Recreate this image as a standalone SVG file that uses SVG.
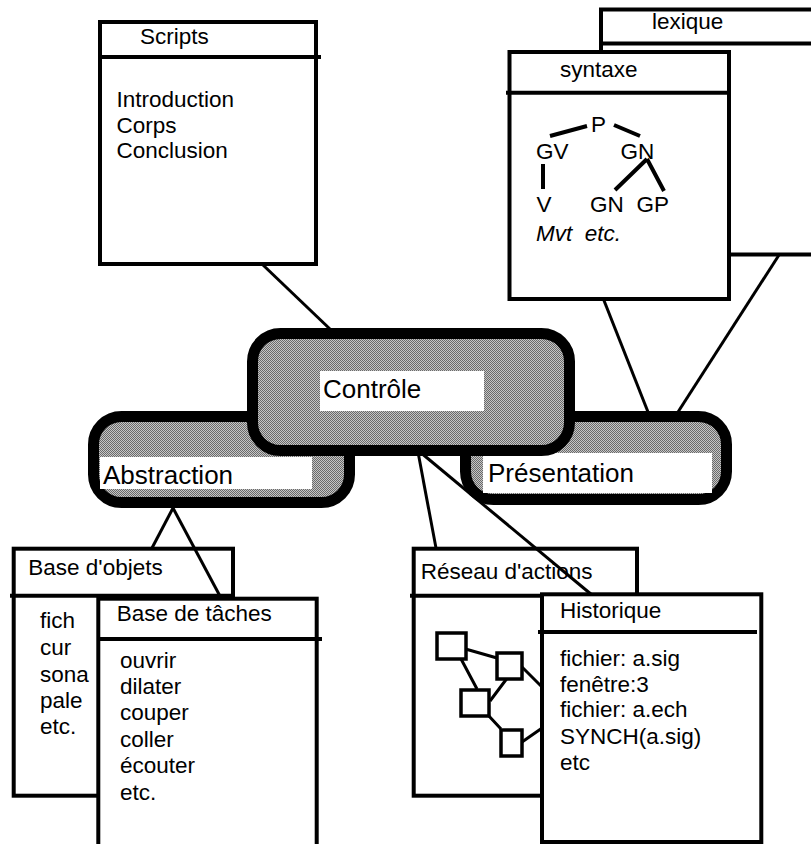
<svg xmlns="http://www.w3.org/2000/svg" width="811" height="844" viewBox="0 0 811 844">
  <defs>
    <!-- fine dithered grey used inside the PAC agents -->
    <pattern id="dither" width="2" height="2" patternUnits="userSpaceOnUse">
      <rect width="2" height="2" fill="#c6c6c6"/>
      <rect width="1" height="1" fill="#6a6a6a"/>
      <rect x="1" y="1" width="1" height="1" fill="#6a6a6a"/>
    </pattern>
    <style>
      .box{fill:#fff;stroke:#000;stroke-width:4}
      .rule{stroke:#000;stroke-width:4;fill:none}
      .link{stroke:#000;stroke-width:3;fill:none}
      .pac{fill:url(#dither);stroke:#000;stroke-width:11}
      .lab{fill:#fff}
      .tree{stroke:#000;stroke-width:4;fill:none}
      .net{fill:#fff;stroke:#000;stroke-width:3.5}
      text{font-family:"Liberation Sans",Arial,Helvetica,sans-serif;font-size:22.5px;fill:#000}
      .big{font-size:26px}
      .it{font-style:italic}
    </style>
  </defs>

  <!-- lexicon knowledge (behind the syntax box) -->
  <g id="lexique">
    <rect class="box" x="601" y="9.5" width="260" height="245"/>
    <line class="rule" x1="599" y1="43.5" x2="811" y2="43.5"/>
    <text x="652" y="29">lexique</text>
  </g>

  <!-- syntax knowledge with a small parse tree -->
  <g id="syntaxe">
    <rect class="box" x="509.5" y="52" width="219.5" height="247"/>
    <line class="rule" x1="506" y1="92.7" x2="729" y2="92.7"/>
    <text x="560" y="77">syntaxe</text>
    <text x="591" y="131.5">P</text>
    <text x="536" y="159.3">GV</text>
    <text x="620.5" y="159.3">GN</text>
    <text x="536.5" y="212.3">V</text>
    <text x="590" y="212.3">GN</text>
    <text x="636.5" y="212.3">GP</text>
    <text class="it" x="536" y="240.7" xml:space="preserve">Mvt  etc.</text>
    <path class="tree" d="M550,136 L587,126 M614,125 L640,136 M543,164 L543,189 M647,159 L615,190 M647,159 L664,191"/>
  </g>

  <!-- scripts knowledge -->
  <g id="scripts">
    <rect class="box" x="100" y="22" width="216" height="242"/>
    <line class="rule" x1="100" y1="57" x2="321" y2="57"/>
    <text x="140" y="44">Scripts</text>
    <text x="116.5" y="106.7">Introduction</text>
    <text x="116.5" y="132.5">Corps</text>
    <text x="116.5" y="158.3">Conclusion</text>
  </g>

  <!-- object base -->
  <g id="base-objets">
    <rect class="box" x="13.7" y="548.7" width="219.3" height="247"/>
    <line class="rule" x1="10" y1="595.7" x2="233" y2="595.7"/>
    <text x="28.3" y="575">Base d'objets</text>
    <text x="40" y="628.3">fich</text>
    <text x="40" y="655">cur</text>
    <text x="40" y="681.7">sona</text>
    <text x="40" y="708">pale</text>
    <text x="40" y="734.3">etc.</text>
  </g>

  <!-- action network -->
  <g id="reseau-actions">
    <rect class="box" x="413.7" y="548.7" width="223.3" height="247"/>
    <line class="rule" x1="410" y1="595.7" x2="637" y2="595.7"/>
    <text x="420.7" y="579">Réseau d'actions</text>
    <path class="link" d="M462,648 L497,658 M460,657 L477,689 M490,701 L508,677 M488,715 L501,729 M522,667 L545,690 M522,742 L545,726"/>
    <rect class="net" x="437" y="633" width="29" height="26"/>
    <rect class="net" x="497" y="653" width="25" height="26"/>
    <rect class="net" x="461" y="690" width="28" height="26"/>
    <rect class="net" x="501" y="730" width="21" height="26"/>
  </g>

  <!-- links between the agents and their knowledge -->
  <g id="connectors">
    <line class="link" x1="263" y1="265" x2="331" y2="330"/>
    <line class="link" x1="603" y1="298" x2="648" y2="412"/>
    <line class="link" x1="779" y1="255" x2="678" y2="412"/>
    <line class="link" x1="173" y1="508" x2="152" y2="548"/>
    <line class="link" x1="173" y1="508" x2="221" y2="598"/>
    <line class="link" x1="418" y1="452" x2="436" y2="548"/>
    <line class="link" x1="420" y1="452" x2="592" y2="595"/>
  </g>

  <!-- PAC agents -->
  <g id="abstraction">
    <rect class="pac" x="93.5" y="416.5" width="256" height="86" rx="28"/>
    <rect class="lab" x="100" y="457" width="212" height="32"/>
    <text class="big" x="103" y="484">Abstraction</text>
  </g>
  <g id="presentation">
    <rect class="pac" x="465.5" y="416.5" width="261" height="83" rx="28"/>
    <rect class="lab" x="483" y="453" width="229" height="40"/>
    <text class="big" x="488" y="482">Présentation</text>
  </g>
  <g id="controle">
    <rect class="pac" x="252.5" y="333.5" width="317" height="117" rx="28"/>
    <rect class="lab" x="320" y="371" width="164" height="40"/>
    <text class="big" x="323" y="398">Contrôle</text>
  </g>

  <!-- task base -->
  <g id="base-taches">
    <rect class="box" x="98.3" y="598.7" width="218.4" height="247.5"/>
    <line class="rule" x1="98.3" y1="639" x2="322" y2="639"/>
    <text x="116.7" y="621">Base de tâches</text>
    <text x="120" y="668.3">ouvrir</text>
    <text x="120" y="694.3">dilater</text>
    <text x="120" y="720.3">couper</text>
    <text x="120" y="746.7">coller</text>
    <text x="120" y="773.3">écouter</text>
    <text x="120" y="800">etc.</text>
  </g>

  <!-- history -->
  <g id="historique">
    <rect class="box" x="542" y="594.3" width="219.3" height="247.7"/>
    <line class="rule" x1="538" y1="632" x2="757" y2="632"/>
    <text x="560" y="618">Historique</text>
    <text x="560" y="666">fichier: a.sig</text>
    <text x="560" y="691.7">fenêtre:3</text>
    <text x="560" y="716.7">fichier: a.ech</text>
    <text x="560" y="744">SYNCH(a.sig)</text>
    <text x="560" y="770">etc</text>
  </g>
</svg>
